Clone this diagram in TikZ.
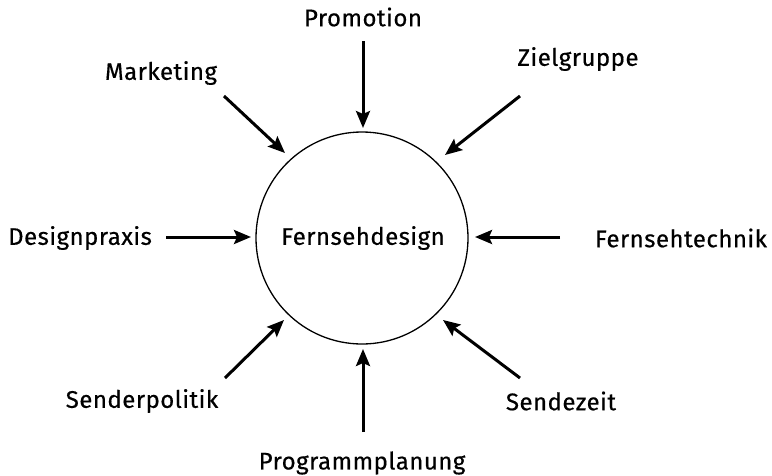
\documentclass[tikz,border=0pt]{standalone}
\usepackage{fontspec}
\newfontfamily\lblfont{Fira Sans}[FakeBold=0.5, LetterSpace=2]
\usetikzlibrary{arrows.meta}
\begin{document}
\begin{tikzpicture}[x=1pt,y=-1pt,
  lbl/.style={font=\lblfont\fontsize{24}{28}\selectfont, inner sep=0pt},
  arr/.style={line width=3pt, -{Stealth[length=17pt,width=14pt,inset=3pt]}}]
\useasboundingbox (0,0) rectangle (772,475);
\node[draw, circle, line width=1.3pt, minimum size=212pt, inner sep=0pt] (c) at (362,238) {};
\node[lbl] (fd) at (363,238) {Fernsehdesign};
\node[lbl] (promo) at (363,17) {Promotion};
\node[lbl] (mark) at (161,73) {Marketing};
\node[lbl] (ziel) at (578,59) {Zielgruppe};
\node[lbl] (dp) at (80,238) {Designpraxis};
\node[lbl] (ft) at (681,238) {Fernsehtechnik};
\node[lbl] (sp) at (142,401) {Senderpolitik};
\node[lbl] (sz) at (561,401) {Sendezeit};
\node[lbl] (pp) at (362,463) {Programmplanung};
\coordinate (a1s) at (363,41);  \coordinate (a1e) at (363,128);
\coordinate (a2s) at (224,96);  \coordinate (a2e) at (285,153);
\coordinate (a3s) at (520,96);  \coordinate (a3e) at (445,155);
\coordinate (a4s) at (166,237); \coordinate (a4e) at (251,237);
\coordinate (a5s) at (560,237); \coordinate (a5e) at (475,237);
\coordinate (a6s) at (225,378); \coordinate (a6e) at (284,320);
\coordinate (a7s) at (520,378); \coordinate (a7e) at (443,320);
\coordinate (a8s) at (363,432); \coordinate (a8e) at (363,349);
\foreach \i in {1,...,8} {\draw[arr] (a\i s) -- (a\i e);}
\end{tikzpicture}
\end{document}
